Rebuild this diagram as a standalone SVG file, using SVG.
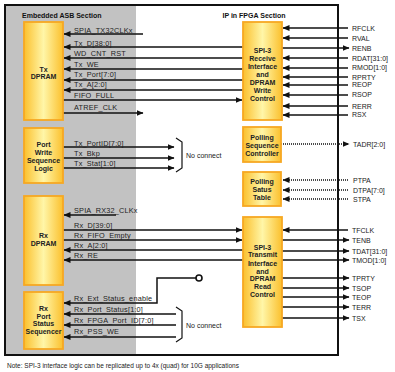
<svg xmlns="http://www.w3.org/2000/svg" width="395" height="372" viewBox="0 0 395 372">
<defs>
<linearGradient id="gb" x1="0" y1="0" x2="1" y2="0">
<stop offset="0" stop-color="#fbc02d"/>
<stop offset="0.5" stop-color="#fff6a8"/>
<stop offset="1" stop-color="#fbc02d"/>
</linearGradient>
<marker id="ah" markerUnits="userSpaceOnUse" markerWidth="7" markerHeight="6" refX="6.5" refY="3" orient="auto">
<path d="M0,0 L7,3 L0,6 z" fill="#111"/>
</marker>
</defs>
<style>
.box{fill:url(#gb);stroke:#f7a823;stroke-width:1.8}
.bl{font-family:"Liberation Sans",Arial,sans-serif;font-size:7px;font-weight:bold;fill:#222;text-anchor:middle}
.sl{font-family:"Liberation Sans",Arial,sans-serif;font-size:7.3px;fill:#222;letter-spacing:0.2px}
.rl{font-family:"Liberation Sans",Arial,sans-serif;font-size:7px;fill:#222}
.hd{font-family:"Liberation Sans",Arial,sans-serif;font-size:7px;font-weight:bold;fill:#111}
.ln{stroke:#111;stroke-width:1.5;fill:none}
.ar{stroke:#111;stroke-width:1.5;fill:none;marker-end:url(#ah)}
.dt{stroke:#111;stroke-width:1.5;fill:none;stroke-dasharray:1,1;marker-end:url(#ah)}
.br{stroke:#111;stroke-width:1.2;fill:none}
</style>
<rect x="5" y="5" width="131" height="349" fill="#c2c2c2"/>
<rect x="5" y="5" width="333" height="350" fill="none" stroke="#111" stroke-width="2"/>
<text class="hd" x="22" y="17.5">Embedded ASB Section</text>
<text class="hd" x="254" y="17.5" text-anchor="middle">IP in FPGA Section</text>
<g id="connectors">
<path class="ar" d="M143,34 H64"/>
<path class="ar" d="M243,47 H64"/>
<path class="ar" d="M243,58 H64"/>
<path class="ar" d="M243,69 H64"/>
<path class="ar" d="M243,80 H64"/>
<path class="ar" d="M243,90 H64"/>
<path class="ar" d="M63,100 H242"/>
<path class="ar" d="M63,113 H143"/>
<path class="ar" d="M348,28 H283"/>
<path class="ar" d="M348,38 H283"/>
<path class="ar" d="M282,48 H349"/>
<path class="ar" d="M348,58 H283"/>
<path class="ar" d="M348,68 H283"/>
<path class="ar" d="M348,77 H283"/>
<path class="ar" d="M348,85 H283"/>
<path class="ar" d="M348,95 H283"/>
<path class="ar" d="M348,106 H283"/>
<path class="ar" d="M348,115 H283"/>
<path class="ar" d="M63,147 H174"/>
<path class="ar" d="M63,158 H174"/>
<path class="ar" d="M63,168 H174"/>
<path class="br" d="M176,138 L182,142 V168 L176,172"/>
<path class="dt" d="M281,144 H349"/>
<path class="dt" d="M348,180 H283"/>
<path class="dt" d="M348,190 H283"/>
<path class="dt" d="M348,199 H283"/>
<path class="ar" d="M116,215 H64"/>
<path class="ar" d="M63,230 H242"/>
<path class="ar" d="M63,240 H242"/>
<path class="ar" d="M243,250 H64"/>
<path class="ar" d="M243,260 H64"/>
<path class="ar" d="M348,230 H283"/>
<path class="ar" d="M282,240 H349"/>
<path class="ar" d="M282,251 H349"/>
<path class="ar" d="M282,260 H349"/>
<path class="ar" d="M282,278 H349"/>
<path class="ar" d="M282,288 H349"/>
<path class="ar" d="M282,297 H349"/>
<path class="ar" d="M282,307 H349"/>
<path class="ar" d="M282,318 H349"/>
<circle cx="199" cy="278" r="3" fill="#fff" stroke="#111" stroke-width="1.6"/>
<path class="ar" d="M196,278 H157 V303 H64"/>
<path class="ar" d="M176,314 H64"/>
<path class="ar" d="M176,325 H64"/>
<path class="ar" d="M176,337 H64"/>
<path class="br" d="M176,307 L182,311 V338 L176,342"/>
</g>
<g id="labels">
<text class="sl" x="74" y="32.5">SPIA_TX32CLKx</text>
<text class="sl" x="74" y="45.5">Tx_D[38:0]</text>
<text class="sl" x="74" y="56">WD_CNT_RST</text>
<text class="sl" x="74" y="66.5">Tx_WE</text>
<text class="sl" x="74" y="77">Tx_Port[7:0]</text>
<text class="sl" x="74" y="87">Tx_A[2:0]</text>
<text class="sl" x="74" y="97.5">FIFO_FULL</text>
<text class="sl" x="74" y="110">ATREF_CLK</text>
<text class="sl" x="74" y="145.5">Tx_PortID[7:0]</text>
<text class="sl" x="74" y="156">Tx_Bkp</text>
<text class="sl" x="74" y="166">Tx_Stat[1:0]</text>
<text class="rl" x="186" y="157.5">No connect</text>
<text class="sl" x="74" y="213">SPIA_RX32_CLKx</text>
<text class="sl" x="74" y="227.5">Rx_D[39:0]</text>
<text class="sl" x="74" y="237.5">Rx_FIFO_Empty</text>
<text class="sl" x="74" y="248">Rx_A[2:0]</text>
<text class="sl" x="74" y="258">Rx_RE</text>
<text class="sl" x="74" y="300.5">Rx_Ext_Status_enable</text>
<text class="sl" x="74" y="312">Rx_Port_Status[1:0]</text>
<text class="sl" x="74" y="323">Rx_FPGA_Port_ID[7:0]</text>
<text class="sl" x="74" y="334">Rx_PSS_WE</text>
<text class="rl" x="186" y="328">No connect</text>
<text class="rl" x="352" y="31">RFCLK</text>
<text class="rl" x="352" y="41">RVAL</text>
<text class="rl" x="352" y="50.5">RENB</text>
<text class="rl" x="352" y="60.5">RDAT[31:0]</text>
<text class="rl" x="352" y="70">RMOD[1:0]</text>
<text class="rl" x="352" y="79.5">RPRTY</text>
<text class="rl" x="352" y="87">REOP</text>
<text class="rl" x="352" y="97">RSOP</text>
<text class="rl" x="352" y="108.5">RERR</text>
<text class="rl" x="352" y="116.5">RSX</text>
<text class="rl" x="353" y="146.5">TADR[2:0]</text>
<text class="rl" x="353" y="182.5">PTPA</text>
<text class="rl" x="353" y="192.5">DTPA[7:0]</text>
<text class="rl" x="353" y="201.5">STPA</text>
<text class="rl" x="352" y="232.5">TFCLK</text>
<text class="rl" x="352" y="242.5">TENB</text>
<text class="rl" x="352" y="253.5">TDAT[31:0]</text>
<text class="rl" x="352" y="262.5">TMOD[1:0]</text>
<text class="rl" x="352" y="280.5">TPRTY</text>
<text class="rl" x="352" y="290.5">TSOP</text>
<text class="rl" x="352" y="299.5">TEOP</text>
<text class="rl" x="352" y="309.5">TERR</text>
<text class="rl" x="352" y="320.5">TSX</text>
</g>
<g id="tx-dpram">
<rect class="box" x="24" y="22" width="39" height="98"/>
<text class="bl" x="43.5" y="71.5">Tx</text>
<text class="bl" x="43.5" y="79">DPRAM</text>
</g>
<g id="port-write">
<rect class="box" x="24" y="128" width="39" height="55"/>
<text class="bl" x="43.5" y="146.5">Port</text>
<text class="bl" x="43.5" y="154.5">Write</text>
<text class="bl" x="43.5" y="162.5">Sequence</text>
<text class="bl" x="43.5" y="170.5">Logic</text>
</g>
<g id="rx-dpram">
<rect class="box" x="24" y="196" width="39" height="89"/>
<text class="bl" x="43.5" y="237.5">Rx</text>
<text class="bl" x="43.5" y="245.5">DPRAM</text>
</g>
<g id="rx-pss">
<rect class="box" x="24" y="292" width="39" height="57"/>
<text class="bl" x="43.5" y="310.5">Rx</text>
<text class="bl" x="43.5" y="318.5">Port</text>
<text class="bl" x="43.5" y="326">Status</text>
<text class="bl" x="43.5" y="334">Sequencer</text>
</g>
<g id="spi3-rx">
<rect class="box" x="243" y="22" width="39" height="98"/>
<text class="bl" x="262.5" y="52.5">SPI-3</text>
<text class="bl" x="262.5" y="60.5">Receive</text>
<text class="bl" x="262.5" y="68.5">Interface</text>
<text class="bl" x="262.5" y="76.5">and</text>
<text class="bl" x="262.5" y="84.5">DPRAM</text>
<text class="bl" x="262.5" y="92.5">Write</text>
<text class="bl" x="262.5" y="100.5">Control</text>
</g>
<g id="polling-seq">
<rect class="box" x="243" y="127" width="38" height="35"/>
<text class="bl" x="262" y="139.5">Polling</text>
<text class="bl" x="262" y="147.5">Sequence</text>
<text class="bl" x="262" y="155.5">Controller</text>
</g>
<g id="polling-table">
<rect class="box" x="243" y="172" width="38" height="34"/>
<text class="bl" x="262" y="183.5">Polling</text>
<text class="bl" x="262" y="191.5">Satus</text>
<text class="bl" x="262" y="199.5">Table</text>
</g>
<g id="spi3-tx">
<rect class="box" x="243" y="217" width="39" height="110"/>
<text class="bl" x="262.5" y="249.5">SPI-3</text>
<text class="bl" x="262.5" y="257">Transmit</text>
<text class="bl" x="262.5" y="265.5">Interface</text>
<text class="bl" x="262.5" y="273.5">and</text>
<text class="bl" x="262.5" y="281">DPRAM</text>
<text class="bl" x="262.5" y="288.5">Read</text>
<text class="bl" x="262.5" y="296.5">Control</text>
</g>
<text x="7" y="368" font-family="'Liberation Sans',Arial,sans-serif" font-size="6.5" fill="#222">Note: SPI-3 interface logic can be replicated up to 4x (quad) for 10G applications</text>
</svg>
